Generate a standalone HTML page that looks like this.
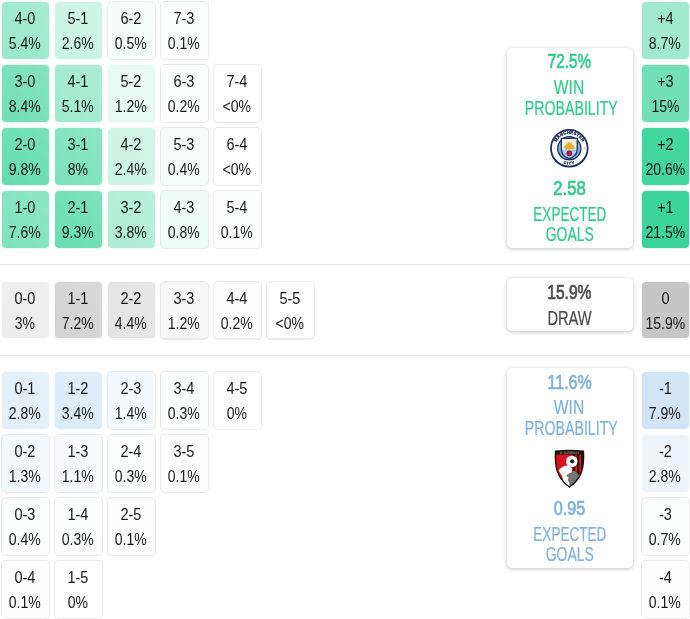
<!DOCTYPE html>
<html lang="en"><head><meta charset="utf-8"><title>Score matrix</title>
<style>
html,body{margin:0;padding:0;background:#fff;}
body{width:690px;height:619px;overflow:hidden;font-family:"Liberation Sans",sans-serif;}
#wrap{position:relative;width:690px;height:619px;overflow:hidden;}
.c{position:absolute;box-sizing:border-box;width:49px;height:59px;border-radius:5px;text-align:center;font-size:16.5px;line-height:25px;color:#161616;padding-top:5px;white-space:nowrap;}
.c::before{content:"";position:absolute;left:var(--i);top:var(--j);right:var(--i);bottom:var(--j);border-radius:4px;background:var(--f);}
.t{position:relative;display:inline-block;transform:scaleX(.88);transform-origin:50% 50%;}
.u{transform:translateY(.4px) scaleX(.85);}
.sep{position:absolute;left:0;width:690px;height:1px;background:#e6e6e6;}
.card{position:absolute;box-sizing:border-box;left:506.5px;width:126px;border-radius:5px;background:#fff;box-shadow:0 1px 4px rgba(0,0,0,.25);text-align:center;white-space:nowrap;}
.card div{position:absolute;left:0;width:126px;text-align:center;}
.card span{display:inline-block;transform-origin:50% 50%;}
.big{font-weight:normal;-webkit-text-stroke:.7px currentColor;font-size:20px;line-height:22px;}
.lab{font-size:19.6px;line-height:20px;-webkit-text-stroke:.2px currentColor;}
.g{color:#2dcc8c;}
.b{color:#7fb2dc;}
.k{color:#4a4a4a;}
.crest{position:absolute;display:block;overflow:visible;}

</style></head><body>
<div id="wrap">
<div class="c" style="left:0.7px;top:1px;background:rgb(239,251,247);--i:1.1px;--j:1.3px;--f:linear-gradient(45deg,rgb(153,232,203),rgb(167,236,210))"><span class="t">4-0</span><br><span class="t u">5.4%</span></div>
<div class="c" style="left:53.7px;top:1px;background:rgb(246,253,251);--i:1.1px;--j:1.3px;--f:linear-gradient(45deg,rgb(201,243,227),rgb(208,245,231))"><span class="t">5-1</span><br><span class="t u">2.6%</span></div>
<div class="c" style="left:106.7px;top:1px;background:rgb(234,234,234);--i:1.1px;--j:1.1px;--f:linear-gradient(45deg,rgb(245,253,250),rgb(246,253,250))"><span class="t">6-2</span><br><span class="t u">0.5%</span></div>
<div class="c" style="left:159.7px;top:1px;background:rgb(234,234,234);--i:1.1px;--j:1.1px;--f:linear-gradient(45deg,rgb(253,255,254),rgb(253,255,254))"><span class="t">7-3</span><br><span class="t u">0.1%</span></div>
<div class="c" style="left:0.7px;top:64px;background:rgb(232,250,243);--i:1.1px;--j:1.3px;--f:linear-gradient(45deg,rgb(113,224,182),rgb(133,228,192))"><span class="t">3-0</span><br><span class="t u">8.4%</span></div>
<div class="c" style="left:53.7px;top:64px;background:rgb(240,252,247);--i:1.1px;--j:1.3px;--f:linear-gradient(45deg,rgb(159,234,206),rgb(172,237,213))"><span class="t">4-1</span><br><span class="t u">5.1%</span></div>
<div class="c" style="left:106.7px;top:64px;background:rgb(251,254,253);--i:1.1px;--j:1.3px;--f:linear-gradient(45deg,rgb(230,249,242),rgb(233,250,244))"><span class="t">5-2</span><br><span class="t u">1.2%</span></div>
<div class="c" style="left:159.7px;top:64px;background:rgb(234,234,234);--i:1.1px;--j:1.1px;--f:linear-gradient(45deg,rgb(251,254,253),rgb(251,254,253))"><span class="t">6-3</span><br><span class="t u">0.2%</span></div>
<div class="c" style="left:212.7px;top:64px;background:rgb(234,234,234);--i:1.1px;--j:1.1px;--f:#fff"><span class="t">7-4</span><br><span class="t u">&lt;0%</span></div>
<div class="c" style="left:0.7px;top:127px;background:rgb(230,250,242);--i:1.1px;--j:1.3px;--f:linear-gradient(45deg,rgb(100,221,176),rgb(122,226,187))"><span class="t">2-0</span><br><span class="t u">9.8%</span></div>
<div class="c" style="left:53.7px;top:127px;background:rgb(234,250,244);--i:1.1px;--j:1.3px;--f:linear-gradient(45deg,rgb(121,226,187),rgb(140,230,196))"><span class="t">3-1</span><br><span class="t u">8%</span></div>
<div class="c" style="left:106.7px;top:127px;background:rgb(247,253,251);--i:1.1px;--j:1.3px;--f:linear-gradient(45deg,rgb(205,244,229),rgb(212,246,233))"><span class="t">4-2</span><br><span class="t u">2.4%</span></div>
<div class="c" style="left:159.7px;top:127px;background:rgb(234,234,234);--i:1.1px;--j:1.1px;--f:linear-gradient(45deg,rgb(247,253,251),rgb(248,253,251))"><span class="t">5-3</span><br><span class="t u">0.4%</span></div>
<div class="c" style="left:212.7px;top:127px;background:rgb(234,234,234);--i:1.1px;--j:1.1px;--f:#fff"><span class="t">6-4</span><br><span class="t u">&lt;0%</span></div>
<div class="c" style="left:0.7px;top:190px;background:rgb(234,250,244);--i:1.1px;--j:1.3px;--f:linear-gradient(45deg,rgb(125,226,189),rgb(144,230,198))"><span class="t">1-0</span><br><span class="t u">7.6%</span></div>
<div class="c" style="left:53.7px;top:190px;background:rgb(231,250,243);--i:1.1px;--j:1.3px;--f:linear-gradient(45deg,rgb(105,222,178),rgb(126,227,189))"><span class="t">2-1</span><br><span class="t u">9.3%</span></div>
<div class="c" style="left:106.7px;top:190px;background:rgb(242,252,248);--i:1.1px;--j:1.3px;--f:linear-gradient(45deg,rgb(175,237,214),rgb(186,240,220))"><span class="t">3-2</span><br><span class="t u">3.8%</span></div>
<div class="c" style="left:159.7px;top:190px;background:rgb(234,234,234);--i:1.1px;--j:1.1px;--f:linear-gradient(45deg,rgb(238,251,246),rgb(241,252,248))"><span class="t">4-3</span><br><span class="t u">0.8%</span></div>
<div class="c" style="left:212.7px;top:190px;background:rgb(234,234,234);--i:1.1px;--j:1.1px;--f:linear-gradient(45deg,rgb(253,255,254),rgb(253,255,254))"><span class="t">5-4</span><br><span class="t u">0.1%</span></div>
<div class="c" style="left:640.6px;top:1px;background:rgb(240,252,247);--i:1.1px;--j:1.3px;--f:rgb(161,234,207)"><span class="t">+4</span><br><span class="t u">8.7%</span></div>
<div class="c" style="left:640.6px;top:64px;background:rgb(232,250,243);--i:1.1px;--j:1.3px;--f:rgb(113,224,182)"><span class="t">+3</span><br><span class="t u">15%</span></div>
<div class="c" style="left:640.6px;top:127px;background:rgb(225,248,240);--i:1.1px;--j:1.3px;--f:rgb(67,214,159)"><span class="t">+2</span><br><span class="t u">20.6%</span></div>
<div class="c" style="left:640.6px;top:190px;background:rgb(224,248,239);--i:1.1px;--j:1.3px;--f:rgb(59,212,154)"><span class="t">+1</span><br><span class="t u">21.5%</span></div>
<div class="c" style="left:0.7px;top:280.5px;background:rgb(252,252,252);--i:1.1px;--j:1.3px;--f:linear-gradient(45deg,rgb(236,236,236),rgb(239,239,239))"><span class="t">0-0</span><br><span class="t u">3%</span></div>
<div class="c" style="left:53.7px;top:280.5px;background:rgb(248,248,248);--i:1.1px;--j:1.3px;--f:linear-gradient(45deg,rgb(211,211,211),rgb(217,217,217))"><span class="t">1-1</span><br><span class="t u">7.2%</span></div>
<div class="c" style="left:106.7px;top:280.5px;background:rgb(250,250,250);--i:1.1px;--j:1.3px;--f:linear-gradient(45deg,rgb(227,227,227),rgb(231,231,231))"><span class="t">2-2</span><br><span class="t u">4.4%</span></div>
<div class="c" style="left:159.7px;top:280.5px;background:rgb(234,234,234);--i:1.1px;--j:1.1px;--f:linear-gradient(45deg,rgb(246,246,246),rgb(247,247,247))"><span class="t">3-3</span><br><span class="t u">1.2%</span></div>
<div class="c" style="left:212.7px;top:280.5px;background:rgb(234,234,234);--i:1.1px;--j:1.1px;--f:linear-gradient(45deg,rgb(253,253,253),rgb(253,253,253))"><span class="t">4-4</span><br><span class="t u">0.2%</span></div>
<div class="c" style="left:265.7px;top:280.5px;background:rgb(234,234,234);--i:1.1px;--j:1.1px;--f:#fff"><span class="t">5-5</span><br><span class="t u">&lt;0%</span></div>
<div class="c" style="left:640.6px;top:280.5px;background:rgb(246,246,246);--i:1.1px;--j:1.3px;--f:rgb(198,198,198)"><span class="t">0</span><br><span class="t u">15.9%</span></div>
<div class="c" style="left:0.7px;top:371px;background:rgb(250,252,254);--i:1.1px;--j:1.3px;--f:linear-gradient(45deg,rgb(226,239,249),rgb(230,241,250))"><span class="t">0-1</span><br><span class="t u">2.8%</span></div>
<div class="c" style="left:53.7px;top:371px;background:rgb(249,252,254);--i:1.1px;--j:1.3px;--f:linear-gradient(45deg,rgb(219,235,248),rgb(224,238,249))"><span class="t">1-2</span><br><span class="t u">3.4%</span></div>
<div class="c" style="left:106.7px;top:371px;background:rgb(234,234,234);--i:1.1px;--j:1.1px;--f:linear-gradient(45deg,rgb(242,248,252),rgb(244,249,253))"><span class="t">2-3</span><br><span class="t u">1.4%</span></div>
<div class="c" style="left:159.7px;top:371px;background:rgb(234,234,234);--i:1.1px;--j:1.1px;--f:linear-gradient(45deg,rgb(252,253,254),rgb(253,254,255))"><span class="t">3-4</span><br><span class="t u">0.3%</span></div>
<div class="c" style="left:212.7px;top:371px;background:rgb(234,234,234);--i:1.1px;--j:1.1px;--f:#fff"><span class="t">4-5</span><br><span class="t u">0%</span></div>
<div class="c" style="left:0.7px;top:434px;background:rgb(234,234,234);--i:1.1px;--j:1.1px;--f:linear-gradient(45deg,rgb(243,248,253),rgb(244,249,253))"><span class="t">0-2</span><br><span class="t u">1.3%</span></div>
<div class="c" style="left:53.7px;top:434px;background:rgb(234,234,234);--i:1.1px;--j:1.1px;--f:linear-gradient(45deg,rgb(245,249,253),rgb(246,250,253))"><span class="t">1-3</span><br><span class="t u">1.1%</span></div>
<div class="c" style="left:106.7px;top:434px;background:rgb(234,234,234);--i:1.1px;--j:1.1px;--f:linear-gradient(45deg,rgb(252,253,254),rgb(253,254,255))"><span class="t">2-4</span><br><span class="t u">0.3%</span></div>
<div class="c" style="left:159.7px;top:434px;background:rgb(234,234,234);--i:1.1px;--j:1.1px;--f:linear-gradient(45deg,rgb(254,254,255),rgb(254,254,255))"><span class="t">3-5</span><br><span class="t u">0.1%</span></div>
<div class="c" style="left:0.7px;top:497px;background:rgb(234,234,234);--i:1.1px;--j:1.1px;--f:linear-gradient(45deg,rgb(251,253,254),rgb(251,253,254))"><span class="t">0-3</span><br><span class="t u">0.4%</span></div>
<div class="c" style="left:53.7px;top:497px;background:rgb(234,234,234);--i:1.1px;--j:1.1px;--f:linear-gradient(45deg,rgb(252,253,254),rgb(253,254,255))"><span class="t">1-4</span><br><span class="t u">0.3%</span></div>
<div class="c" style="left:106.7px;top:497px;background:rgb(234,234,234);--i:1.1px;--j:1.1px;--f:linear-gradient(45deg,rgb(254,254,255),rgb(254,254,255))"><span class="t">2-5</span><br><span class="t u">0.1%</span></div>
<div class="c" style="left:0.7px;top:560px;background:rgb(234,234,234);--i:1.1px;--j:1.1px;--f:linear-gradient(45deg,rgb(254,254,255),rgb(254,254,255))"><span class="t">0-4</span><br><span class="t u">0.1%</span></div>
<div class="c" style="left:53.7px;top:560px;background:rgb(234,234,234);--i:1.1px;--j:1.1px;--f:#fff"><span class="t">1-5</span><br><span class="t u">0%</span></div>
<div class="c" style="left:640.6px;top:371px;background:rgb(248,251,254);--i:1.1px;--j:1.3px;--f:rgb(209,229,246)"><span class="t">-1</span><br><span class="t u">7.9%</span></div>
<div class="c" style="left:640.6px;top:434px;background:rgb(252,253,254);--i:1.1px;--j:1.3px;--f:rgb(237,245,251)"><span class="t">-2</span><br><span class="t u">2.8%</span></div>
<div class="c" style="left:640.6px;top:497px;background:rgb(234,234,234);--i:1.1px;--j:1.1px;--f:rgb(251,253,254)"><span class="t">-3</span><br><span class="t u">0.7%</span></div>
<div class="c" style="left:640.6px;top:560px;background:rgb(234,234,234);--i:1.1px;--j:1.1px;--f:rgb(254,254,255)"><span class="t">-4</span><br><span class="t u">0.1%</span></div>
<div class="sep" style="top:264px"></div>
<div class="sep" style="top:355px"></div>
<div class="card g" style="top:48.4px;height:199.2px">
 <div class="big" style="top:2.1px"><span style="transform:scaleX(0.759)">72.5%</span></div>
 <div class="lab" style="top:29.1px"><span style="transform:scaleX(0.799)">WIN</span></div>
 <div class="lab" style="top:49.5px"><span style="transform:scaleX(0.725)">PROBABILITY</span></div>
 <div class="big" style="top:128.8px"><span style="transform:scaleX(0.839)">2.58</span></div>
 <div class="lab" style="top:156.1px"><span style="transform:scaleX(0.691)">EXPECTED</span></div>
 <div class="lab" style="top:175.4px"><span style="transform:scaleX(0.712)">GOALS</span></div>
</div>
<div class="card k" style="top:278.4px;height:52.8px">
 <div class="big" style="top:2.8px"><span style="transform:scaleX(0.780)">15.9%</span></div>
 <div class="lab" style="top:30.1px"><span style="transform:scaleX(0.75)">DRAW</span></div>
</div>
<div class="card b" style="top:368.4px;height:199.2px">
 <div class="big" style="top:2.6px"><span style="transform:scaleX(0.80)">11.6%</span></div>
 <div class="lab" style="top:29.1px"><span style="transform:scaleX(0.799)">WIN</span></div>
 <div class="lab" style="top:49.5px"><span style="transform:scaleX(0.725)">PROBABILITY</span></div>
 <div class="big" style="top:129.1px"><span style="transform:scaleX(0.81)">0.95</span></div>
 <div class="lab" style="top:156.1px"><span style="transform:scaleX(0.691)">EXPECTED</span></div>
 <div class="lab" style="top:175.4px"><span style="transform:scaleX(0.712)">GOALS</span></div>
</div>

<svg class="crest" style="left:549px;top:128px" width="40.6" height="40.6" viewBox="-20.5 -20.5 41 41">
 <defs>
  <path id="arcTop" d="M -14.6 0 A 14.6 14.6 0 0 1 14.6 0"/>
  <path id="arcBot" d="M -16.5 0 A 16.5 16.5 0 0 0 16.5 0"/>
  <clipPath id="mcShield"><path d="M -8 -10 H 8 V 1 C 8 6 4.5 9 0 10.6 C -4.5 9 -8 6 -8 1 Z"/></clipPath>
 </defs>
 <circle r="18.5" fill="#fff" stroke="#1c2c5b" stroke-width="1.8"/>
 <circle r="11.7" fill="#7fb4df" stroke="#1c2c5b" stroke-width="1.3"/>
 <text font-family="Liberation Sans, sans-serif" font-weight="bold" font-size="4.3" fill="#1c2c5b" stroke="#1c2c5b" stroke-width=".32" letter-spacing=".2"><textPath href="#arcTop" startOffset="50%" text-anchor="middle">MANCHESTER</textPath></text>
 <text font-family="Liberation Sans, sans-serif" font-weight="bold" font-size="3.9" fill="#1c2c5b" stroke="#1c2c5b" stroke-width=".3" letter-spacing=".9"><textPath href="#arcBot" startOffset="50%" text-anchor="middle">CITY</textPath></text>
 <circle cx="-15.2" cy="0" r=".7" fill="#9aa3b8"/><circle cx="15.2" cy="0" r=".7" fill="#9aa3b8"/>
 <g clip-path="url(#mcShield)">
  <rect x="-9" y="-11" width="18" height="12.5" fill="#f6f3df"/>
  <rect x="-9" y="1.5" width="18" height="11" fill="#9cc7ea"/>
  <path d="M -5.6 -1.2 L -4.6 -2.8 L -3.2 -3 L -3 -5.6 L -1.8 -4.6 L -0.2 -7 L 0.8 -5 L 2.4 -6.2 L 2.8 -3.4 L 4.6 -3 L 5.6 -1.4 L 4.4 0.7 C 2 1.3 -2 1.3 -4.4 0.7 Z" fill="#e9ab2e"/>
  <path d="M -8 5 L 8 -0.5 M -8 8.5 L 8 3" stroke="#c5def3" stroke-width="1.1"/>
  <circle cx="0" cy="5.1" r="2.9" fill="#7a1a45"/>
  <circle cx="0" cy="5.1" r="1.9" fill="#d21c38"/>
 </g>
 <path d="M -8 -10 H 8 V 1 C 8 6 4.5 9 0 10.6 C -4.5 9 -8 6 -8 1 Z" fill="none" stroke="#1c2c5b" stroke-width="1.3"/>
</svg>
<svg class="crest" style="left:553px;top:449px" width="33" height="41" viewBox="0 0 33 41">
 <defs>
  <clipPath id="bShield"><path d="M 2.6 2.2 Q 16.5 0.6 30.4 2.2 C 31.2 16 29.8 29 16.4 38 C 3.2 29 1.8 16 2.6 2.2 Z"/></clipPath>
 </defs>
 <g clip-path="url(#bShield)">
  <rect width="33" height="41" fill="#d8151d"/>
  <rect x="20.2" y="0" width="2" height="41" fill="#2a0d0d"/>
  <rect x="24" y="0" width="2.2" height="41" fill="#2a0d0d"/>
  <rect x="28" y="0" width="3" height="41" fill="#2a0d0d"/>
  <rect x="0" y="0" width="33" height="5.6" fill="#1a1414"/>
  <path d="M 16 22 L 22 22 L 28 28 L 27 34 L 17 40 L 12 34 Z" fill="#757575"/>
  <path d="M 5.6 21.6 C 8 18 12 16.4 15 16.6 L 19 19 L 18.6 23.4 L 14.8 25 L 13.4 27.2 L 15.8 28.4 L 14.6 31 L 16 33 L 17 39 L 10.6 33 C 9.8 28 8 25 5.6 21.6 Z" fill="#fff"/>
  <circle cx="18.8" cy="12.4" r="5.7" fill="#fff"/>
  <circle cx="19.2" cy="12.3" r="2.1" fill="#1a1414"/>
 </g>
 <text x="16.5" y="4.7" text-anchor="middle" font-family="Liberation Sans, sans-serif" font-weight="bold" font-size="2.6" fill="#8c8078" textLength="19" lengthAdjust="spacingAndGlyphs">AFC BOURNEMOUTH</text>
 <path d="M 2.6 2.2 Q 16.5 0.6 30.4 2.2 C 31.2 16 29.8 29 16.4 38 C 3.2 29 1.8 16 2.6 2.2 Z" fill="none" stroke="#1a1414" stroke-width="1.5"/>
</svg>

</div></body></html>
